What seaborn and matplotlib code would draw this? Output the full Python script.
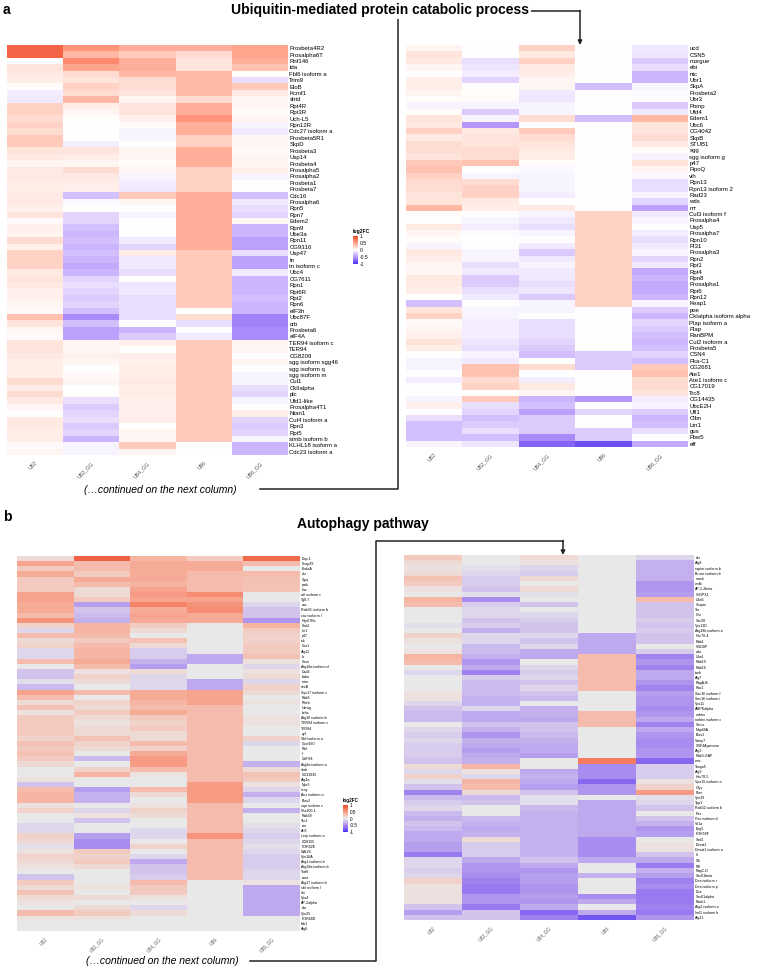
import numpy as np
import pandas as pd
import matplotlib
matplotlib.use('Agg')
import matplotlib.pyplot as plt
import seaborn as sns
from matplotlib.colors import ListedColormap, Normalize, to_rgb
from matplotlib.cm import ScalarMappable

samples = ['UB2', 'UB2_GG', 'UB4_GG', 'UB6', 'UB6_GG']

# ---------------- panel a, left column ----------------
a_left_genes = ['Prosbeta4R2', 'Prosalpha6T', 'Rnf146', 'ida', 'Fbl6 isoform a', 'Trim9', 'EloB', 'Kcmf1',
                'shtd', 'Rpt4R', 'Rpt3R', 'Uch-L5', 'Rpn12R', 'Cdc27 isoform a', 'Prosbeta5R1', 'SkpD',
                'Prosbeta3', 'Usp14', 'Prosbeta4', 'Prosalpha5', 'Prosalpha2', 'Prosbeta1', 'Prosbeta7',
                'Cdc16', 'Prosalpha6', 'Rpn5', 'Rpn7', 'Edem2', 'Rpn9', 'Ube3a', 'Rpn11', 'CG9316', 'Usp47',
                'tn', 'tn isoform c', 'Ubc4', 'CG7611', 'Rpn1', 'Rpt6R', 'Rpt2', 'Rpn6', 'eIF3h', 'Ubc87F',
                'crb', 'Prosbeta6', 'eIF4A', 'TER94 isoform c', 'TER94', 'CG8209', 'sgg isoform sgg46',
                'sgg isoform q', 'sgg isoform m', 'Cul1', 'CkIIalpha', 'plc', 'Ufd1-like', 'Prosalpha4T1',
                'Ntan1', 'Cul4 isoform a', 'Rpn3', 'Rpt5', 'simb isoform b', 'KLHL18 isoform a',
                'Cdc23 isoform a']
a_left_ub2 = [0.85, 0.85, 0.0, 0.15, 0.12, 0.1, 0.02, -0.08, -0.1, 0.25,
              0.25, 0.2, 0.25, 0.2, 0.3, 0.3, 0.15, 0.12, 0.05, 0.12,
              0.12, 0.1, 0.1, 0.12, 0.12, 0.08, 0.15, 0.03, 0.08, 0.05,
              0.2, 0.08, 0.25, 0.25, 0.25, 0.12, 0.15, 0.12, 0.08, 0.08,
              0.05, 0.03, 0.35, 0.15, 0.05, 0.03, 0.15, 0.15, 0.12, 0.1,
              0.1, 0.1, 0.2, 0.1, 0.2, 0.12, 0.05, 0.0, 0.12, 0.12,
              0.1, 0.1, 0.03, 0.05]
a_left_ub2gg = [0.6, 0.4, 0.65, 0.5, 0.2, 0.15, 0.25, 0.2, 0.4, 0.1,
                0.05, 0.02, 0.0, 0.0, 0.0, -0.08, 0.15, 0.1, 0.05, 0.2,
                0.12, 0.1, 0.08, -0.3, -0.03, 0.0, -0.2, -0.2, -0.3, -0.35,
                -0.3, -0.35, -0.3, -0.35, -0.4, -0.35, -0.2, -0.15, -0.2, -0.25,
                -0.2, -0.3, -0.55, -0.3, -0.45, -0.45, 0.05, 0.05, 0.08, 0.05,
                0.0, 0.03, 0.05, 0.0, 0.0, -0.15, -0.25, -0.2, -0.15, -0.25,
                -0.2, -0.35, -0.05, -0.05]
a_left_ub4gg = [0.45, 0.3, 0.45, 0.45, 0.4, 0.2, 0.2, 0.15, 0.05, 0.15,
                0.15, 0.08, 0.02, -0.05, -0.05, 0.0, 0.05, 0.05, 0.02, 0.05,
                -0.05, -0.08, -0.1, 0.3, 0.05, 0.0, -0.05, 0.0, 0.0, 0.0,
                -0.1, -0.2, 0.1, -0.1, -0.1, -0.15, 0.0, -0.12, -0.1, -0.15,
                -0.15, -0.15, -0.15, 0.0, -0.35, -0.25, 0.08, 0.0, 0.1, 0.08,
                0.1, 0.1, 0.12, 0.1, 0.1, 0.08, 0.08, 0.08, 0.1, 0.0,
                0.05, 0.05, 0.3, 0.05]
a_left_ub6 = [0.45, 0.2, 0.15, 0.15, 0.4, 0.4, 0.4, 0.4, 0.2, 0.45,
              0.45, 0.6, 0.45, 0.45, 0.25, 0.25, 0.45, 0.45, 0.45, 0.25,
              0.25, 0.25, 0.25, 0.45, 0.45, 0.45, 0.45, 0.45, 0.45, 0.45,
              0.45, 0.45, 0.3, 0.3, 0.3, 0.3, 0.3, 0.3, 0.3, 0.3,
              0.3, 0.0, 0.2, -0.15, 0.0, -0.1, 0.3, 0.3, 0.3, 0.3,
              0.3, 0.3, 0.3, 0.3, 0.3, 0.3, 0.3, 0.3, 0.3, 0.3,
              0.3, 0.3, 0.0, 0.0]
a_left_ub6gg = [0.5, 0.5, 0.45, 0.35, 0.0, -0.15, 0.3, 0.12, 0.05, 0.05,
                0.02, 0.05, -0.05, -0.1, 0.05, 0.05, 0.03, 0.05, 0.05, 0.08,
                -0.05, 0.0, 0.0, -0.3, -0.1, -0.15, -0.2, 0.05, -0.35, -0.35,
                -0.45, -0.45, -0.15, -0.45, -0.45, -0.1, -0.35, -0.35, -0.35, -0.3,
                -0.35, -0.35, -0.6, -0.6, -0.55, -0.55, 0.05, 0.05, 0.0, 0.05,
                0.0, -0.05, -0.05, -0.15, -0.2, -0.05, 0.0, 0.1, -0.2, -0.25,
                -0.2, -0.05, -0.35, -0.35]

# ---------------- panel a, right column ----------------
a_right_genes = ['ucd', 'CSN5', 'morgue', 'ebi', 'ntc', 'Ubr1', 'SkpA', 'Prosbeta2', 'Ubr3', 'Pomp', 'Ufd4',
                 'Edem1', 'Ubc6', 'CG4042', 'SkpB', 'STUB1', 'sgg', 'sgg isoform g', 'p47', 'FipoQ', 'vih',
                 'Rpn13', 'Rpn13 isoform 2', 'Rad23', 'wds', 'mr', 'Cul3 isoform f', 'Prosalpha4', 'Usp5',
                 'Prosalpha7', 'Rpn10', 'PI31', 'Prosalpha3', 'Rpn2', 'Rpt1', 'Rpt4', 'Rpn8', 'Prosalpha1',
                 'Rpt6', 'Rpn12', 'Keap1', 'poe', 'CkIalpha isoform alpha', 'Plap isoform a', 'Plap',
                 'RanBPM', 'Cul2 isoform a', 'Prosbeta5', 'CSN4', 'Pka-C1', 'CG2681', 'Ate1',
                 'Ate1 isoform c', 'CG17019', 'Trc8', 'CG14435', 'UbcE2H', 'Ufl1', 'Clbn', 'Ltn1', 'gus',
                 'Fbw5', 'eff']
a_right_ub2 = [0.05, 0.15, 0.12, 0.05, 0.0, 0.1, 0.1, 0.05, 0.02, -0.05,
               0.02, 0.15, 0.12, 0.25, 0.12, 0.2, 0.2, 0.15, 0.3, 0.35,
               0.25, 0.2, 0.2, 0.15, 0.15, 0.4, 0.02, 0.0, 0.12, 0.05,
               0.02, -0.05, 0.12, 0.1, 0.05, 0.05, 0.12, 0.12, 0.1, 0.0,
               -0.3, 0.15, 0.25, 0.03, 0.05, 0.08, 0.15, 0.1, 0.0, -0.05,
               -0.05, 0.0, -0.08, 0.0, 0.0, -0.05, 0.08, 0.0, -0.15, -0.3,
               -0.3, -0.3, -0.05]
a_right_ub2gg = [0.0, 0.0, -0.15, -0.12, -0.08, -0.2, 0.0, 0.02, 0.03, -0.05,
                 -0.25, -0.05, -0.5, 0.12, 0.15, 0.15, 0.2, 0.2, 0.35, 0.0,
                 -0.05, 0.2, 0.25, 0.25, 0.12, 0.1, 0.0, -0.05, -0.08, -0.02,
                 0.0, 0.0, -0.05, -0.05, -0.15, -0.1, -0.25, -0.25, -0.15, -0.1,
                 0.0, -0.05, -0.05, -0.08, -0.08, -0.08, -0.12, -0.15, -0.05, -0.1,
                 0.35, 0.35, 0.2, 0.25, 0.0, 0.3, -0.15, -0.2, -0.3, -0.25,
                 -0.15, -0.3, -0.12]
a_right_ub4gg = [0.25, 0.12, 0.25, 0.12, 0.1, 0.05, 0.05, -0.1, -0.12, -0.05,
                 -0.05, 0.2, 0.0, 0.3, 0.2, 0.15, 0.12, 0.1, 0.02, -0.03,
                 -0.05, -0.05, -0.05, -0.08, 0.0, 0.12, -0.05, -0.1, -0.15, -0.05,
                 0.0, -0.1, -0.25, -0.1, -0.05, -0.1, -0.1, -0.15, -0.12, -0.25,
                 -0.05, -0.05, 0.0, -0.15, -0.15, -0.15, -0.2, -0.25, -0.3, 0.0,
                 0.2, 0.0, -0.08, 0.12, 0.05, -0.35, -0.3, -0.45, -0.25, -0.25,
                 -0.25, -0.55, -0.75]
a_right_ub6 = [0, 0, 0, 0, 0, 0, -0.3, 0, 0, 0,
               0, -0.3, 0, 0, 0, 0, 0, 0, 0, 0,
               0, 0, 0, 0, 0, 0, 0.25, 0.25, 0.25, 0.25,
               0.25, 0.25, 0.25, 0.25, 0.25, 0.25, 0.25, 0.25, 0.25, 0.25,
               0.25, 0, 0, 0, 0, 0, 0, 0, -0.25, -0.25,
               -0.25, 0, 0, 0, 0, -0.5, 0, -0.2, 0, 0,
               -0.25, -0.25, -0.85]
a_right_ub6gg = [-0.1, -0.12, -0.25, -0.15, -0.35, -0.35, -0.05, -0.02, 0.0, -0.25,
                 -0.1, 0.4, 0.15, 0.15, 0.2, 0.12, 0.02, -0.05, 0.15, 0.05,
                 -0.03, -0.15, -0.15, -0.05, -0.2, -0.45, -0.1, -0.05, 0.0, -0.08,
                 -0.15, -0.1, -0.05, -0.2, -0.1, -0.4, -0.35, -0.4, -0.4, -0.35,
                 -0.05, -0.25, -0.35, -0.2, -0.25, -0.3, -0.35, -0.3, -0.2, -0.3,
                 0.3, 0.35, 0.2, 0.2, 0.15, -0.08, -0.05, -0.25, -0.35, -0.3,
                 -0.15, 0.0, -0.4]

# ---------------- panel b, left column ----------------
b_left_genes = ['Dop-1', 'Snap29', 'EndoA', 'clu', 'Synj', 'park', 'hiw', 'atl isoform c', 'Tg8-7', 'cac',
                'Rab35 isoform b', 'cac isoform l', 'Hsp67Bc', 'Sod2', 'Ire1', 'p47', 'tsk', 'Ccz1', 'Atg12',
                'rb', 'Sesn', 'Atg18a isoform d', 'Cad3', 'babo', 'mtm', 'sesB', 'Syx17 isoform c', 'Rab5',
                'Rheb', 'Uvrag', 'bchs', 'Atg16 isoform b', 'TER94 isoform c', 'TER94', 'cyf',
                'Sbf isoform a', 'Cpsf160', 'Raf', 'rl', 'CalF84', 'Atg8a isoform a', 'shrb', 'CG31935',
                'Atg4a', 'Npc3', 'scny', 'Aux isoform a', 'Blos2', 'sqa isoform c', 'Vha100-1', 'Rab39',
                'Tsc1', 'car', 'Arl8', 'Lerp isoform a', 'CG8155', 'PI3K92E', 'Wdr24', 'Vps16A',
                'Atg1 isoform b', 'Atg18a isoform b', 'Traf6', 'ema', 'Atg17 isoform b', 'sbl isoform l',
                'shi', 'Vps4', 'AP-2alpha', 'dor', 'Vps25', 'PI3K68D', 'fab1', 'Atg6']
b_left_ub2 = [0.1, 0.45, 0.2, 0.4, 0.2, 0.2, 0.2, 0.45, 0.45, 0.4,
              0.4, 0.3, 0.55, 0.15, -0.1, 0.3, 0.1, 0.15, -0.1, -0.1,
              0.3, 0.0, -0.2, -0.2, -0.05, -0.25, 0.45, 0.3, 0.1, 0.25,
              0.05, 0.2, 0.2, 0.2, 0.2, 0.15, 0.25, 0.2, 0.25, 0.2,
              0.1, 0.0, 0.0, 0.05, -0.2, 0.3, 0.35, 0.35, 0.05, 0.15,
              0.0, 0.0, -0.1, -0.1, 0.15, 0.1, -0.05, 0.05, 0.15, 0.1,
              0.05, 0.0, -0.2, 0.2, 0.1, 0.25, 0.1, 0.05, 0.0, 0.3,
              0.05, 0.0, 0.0]
b_left_ub2gg = [0.85, 0.3, 0.3, 0.2, 0.4, 0.3, 0.1, 0.1, 0.2, -0.4,
                -0.2, -0.25, -0.3, 0.35, 0.35, 0.3, 0.2, 0.3, 0.35, 0.35,
                0.4, 0.3, 0.05, 0.15, 0.1, 0.0, 0.3, 0.0, 0.15, 0.1,
                0.2, 0.1, 0.05, 0.1, 0.1, 0.25, 0.15, 0.1, 0.0, -0.25,
                0.0, 0.15, 0.35, 0.0, 0.0, -0.4, -0.3, -0.3, 0.0, -0.1,
                0.05, -0.2, 0.0, 0.0, -0.4, -0.5, -0.5, 0.2, 0.15, 0.2,
                0.1, 0.0, 0.0, 0.0, 0.05, 0.0, 0.1, 0.0, 0.1, 0.2,
                0.05, 0.0, 0.0]
b_left_ub4gg = [0.35, 0.4, 0.4, 0.4, 0.4, 0.35, 0.45, 0.5, 0.45, 0.65,
                0.4, 0.45, 0.4, 0.2, 0.1, 0.0, 0.25, 0.1, -0.15, -0.15,
                -0.3, -0.4, 0.1, -0.1, -0.1, -0.1, 0.4, 0.4, 0.35, 0.3,
                0.4, 0.2, 0.15, 0.2, 0.1, 0.1, 0.3, 0.15, 0.4, 0.5,
                0.5, 0.3, 0.05, 0.0, 0.0, 0.3, 0.1, 0.0, 0.05, 0.15,
                0.1, 0.0, 0.0, -0.1, -0.1, 0.0, 0.15, 0.0, -0.1, -0.35,
                -0.2, -0.2, -0.15, 0.3, 0.2, 0.2, 0.05, 0.0, -0.1, 0.1,
                0.0, 0.0, 0.0]
b_left_ub6 = [0.2, 0.4, 0.4, 0.3, 0.3, 0.3, 0.3, 0.6, 0.45, 0.55,
              0.6, 0.4, 0.4, 0, 0, 0, 0, 0, 0, -0.35,
              -0.35, 0, 0, 0, -0.35, -0.35, 0.45, 0.45, 0.45, 0.3,
              0.3, 0.3, 0.3, 0.3, 0.3, 0.3, 0.3, 0.3, 0.3, 0.3,
              0.3, 0.3, 0.3, 0.3, 0.5, 0.5, 0.5, 0.5, 0.3, 0.3,
              0.3, 0.3, 0.3, 0.3, 0.55, 0.3, 0.3, 0.3, 0.3, 0.3,
              0.3, 0.3, 0.3, 0, 0, 0, 0, 0, 0, 0,
              0, 0, 0]
b_left_ub6gg = [0.8, 0.3, 0.0, 0.3, 0.25, 0.25, 0.25, 0.0, 0.0, -0.1,
                -0.2, -0.2, -0.45, 0.35, 0.2, 0.15, 0.15, 0.2, 0.2, 0.25,
                0.05, -0.1, 0.05, 0.1, -0.1, 0.15, 0.1, 0.0, 0.05, 0.0,
                0.0, 0.05, 0.05, 0.0, 0.0, 0.15, -0.1, 0.0, 0.0, 0.0,
                -0.3, 0.1, 0.25, 0.2, 0.05, -0.1, -0.3, -0.1, 0.0, -0.3,
                0.0, 0.0, -0.05, -0.1, -0.15, -0.1, -0.05, -0.1, -0.15, -0.15,
                -0.15, -0.1, -0.1, 0.05, -0.35, -0.35, -0.35, -0.35, -0.35, -0.35,
                0.0, 0.0, 0.0]

# ---------------- panel b, right column ----------------
b_right_genes = ['rdx', 'Atg8', 'raptor isoform b', 'Bruce isoform b', 'mask', 'wdb', 'AP-1-2beta', 'SH3PX1',
                 'Uba5', 'Snapin', 'Tor', 'Chc', 'Sec20', 'Vps13D', 'Atg18b isoform a', 'Hsc70-4', 'Rab1',
                 'SNCBP', 'zda', 'Uba1', 'Rab19', 'Rab18', 'tank', 'Atg7', 'RagA-B', 'Rac1',
                 'Sec16 isoform f', 'Sec16 isoform i', 'Vps11', 'AMPKalpha', 'nahtrx', 'nahtrx isoform c',
                 'Smox', 'Nup44A', 'Blos1', 'Vamp7', 'SNF4Agamma', 'Atg3', 'Rab3-GAP', 'wts', 'Tango5',
                 'Atg9', 'Hsc70-5', 'Vps15 isoform a', 'Glys', 'Pten', 'Vps39', 'Tpp1', 'Rab32 isoform b',
                 'Pex', 'Pex isoform d', 'Vti1a', 'Epg5', 'PI3K59F', 'Sod1', 'Desat1', 'Desat1 isoform a',
                 'lt', 'Stk', 'gig', 'RagC-D', 'Sec61beta', 'Doa isoform r', 'Doa isoform p', 'Doa',
                 'Sec61alpha', 'Rack1', 'Atg2 isoform a', 'Iml1 isoform b', 'Atg13']
b_right_ub2 = [0.2, 0.1, 0.05, 0.1, 0.25, 0.2, 0.05, 0.0, 0.35, 0.3,
               0.0, 0.0, 0.0, -0.05, 0.0, 0.15, 0.05, 0.0, 0.05, 0.35,
               0.3, 0.0, -0.1, 0.0, 0.0, 0.0, 0.05, 0.05, -0.1, -0.2,
               -0.25, -0.25, 0.0, -0.1, -0.15, -0.1, -0.15, -0.15, -0.15, -0.2,
               0.1, -0.1, 0.15, -0.05, -0.2, -0.55, -0.25, -0.15, -0.1, -0.25,
               -0.3, -0.2, -0.25, -0.35, -0.35, -0.4, -0.4, -0.6, -0.1, -0.1,
               -0.15, -0.1, 0.15, 0.05, 0.05, 0.05, 0.05, -0.2, -0.4, -0.2]
b_right_ub2gg = [0.0, 0.0, -0.05, -0.1, -0.15, -0.15, -0.2, -0.05, -0.5, -0.15,
                 -0.1, -0.1, -0.2, -0.15, -0.3, -0.1, -0.1, -0.25, -0.25, -0.3,
                 -0.45, -0.35, -0.55, -0.15, -0.25, -0.25, -0.25, -0.3, -0.3, -0.1,
                 -0.35, -0.35, -0.2, -0.3, -0.45, -0.3, -0.35, -0.4, -0.35, -0.3,
                 0.35, 0.05, -0.1, 0.35, 0.3, 0.1, -0.25, -0.2, 0.0, 0.0,
                 -0.25, -0.3, -0.35, -0.3, 0.1, -0.15, -0.15, -0.15, -0.35, -0.45,
                 -0.45, -0.5, -0.55, -0.6, -0.6, -0.45, -0.45, -0.6, -0.2, -0.2]
b_right_ub4gg = [0.1, 0.05, -0.1, -0.15, 0.1, 0.0, 0.1, -0.05, 0.0, -0.2,
                 0.0, -0.1, -0.15, -0.2, -0.2, -0.1, -0.2, -0.1, -0.35, -0.35,
                 0.0, -0.1, -0.15, -0.1, -0.2, -0.1, -0.2, -0.25, 0.0, -0.3,
                 -0.3, -0.35, -0.2, -0.2, -0.25, -0.3, -0.35, -0.35, -0.4, 0.0,
                 0.0, -0.35, -0.3, -0.35, -0.4, -0.2, -0.05, -0.05, -0.25, -0.3,
                 -0.3, -0.3, -0.3, -0.3, -0.3, -0.3, -0.3, -0.3, -0.2, -0.35,
                 -0.45, -0.4, -0.4, -0.45, -0.45, -0.4, -0.45, -0.35, -0.7, -0.55]
b_right_ub6 = [0, 0, 0, 0, 0, 0, 0, 0, 0, 0,
               0, 0, 0, 0, 0, -0.35, -0.35, -0.35, -0.35, 0.3,
               0.3, 0.3, 0.3, 0.3, 0.3, 0.3, 0, 0, 0, 0,
               0.3, 0.3, 0.3, 0, 0, 0, 0, 0, 0, 0.7,
               -0.5, -0.5, -0.5, -0.7, -0.45, -0.45, 0, -0.35, -0.35, -0.35,
               -0.35, -0.35, -0.35, -0.35, -0.5, -0.5, -0.5, -0.5, -0.35, 0,
               0, -0.3, 0, 0, 0, -0.5, -0.35, 0, -0.35, -0.8]
b_right_ub6gg = [-0.1, -0.3, -0.3, -0.3, -0.3, -0.45, -0.45, -0.4, 0.3, -0.2,
                 -0.2, -0.2, -0.15, -0.2, -0.15, -0.2, -0.2, 0.0, -0.15, -0.55,
                 -0.45, -0.55, -0.35, -0.35, -0.45, -0.55, -0.4, -0.45, -0.45, -0.5,
                 -0.45, -0.35, -0.55, -0.35, -0.45, -0.5, -0.5, -0.45, -0.45, -0.7,
                 -0.15, -0.15, -0.15, 0.05, 0.15, 0.5, -0.05, -0.1, -0.2, 0.0,
                 -0.2, -0.3, -0.45, -0.4, 0.0, 0.05, 0.05, -0.2, -0.35, -0.6,
                 -0.3, -0.4, -0.55, -0.5, -0.6, -0.6, -0.6, -0.55, -0.6, -0.45]


# colour ramp interpolated in LAB space (blue - mid - red)
M = np.array([[0.4124, 0.3576, 0.1805], [0.2126, 0.7152, 0.0722], [0.0193, 0.1192, 0.9505]])
WHITE = np.array([0.95047, 1.0, 1.08883])


def to_lab(c):
    c = np.array(to_rgb(c))
    lin = np.where(c <= 0.04045, c / 12.92, ((c + 0.055) / 1.055) ** 2.4)
    xyz = M @ lin / WHITE
    f = np.where(xyz > 0.008856, np.cbrt(xyz), 7.787 * xyz + 16 / 116)
    return np.array([116 * f[1] - 16, 500 * (f[0] - f[1]), 200 * (f[1] - f[2])])


def from_lab(lab):
    fy = (lab[0] + 16) / 116
    f = np.array([fy + lab[1] / 500, fy, fy - lab[2] / 200])
    xyz = np.where(f ** 3 > 0.008856, f ** 3, (f - 16 / 116) / 7.787) * WHITE
    lin = np.clip(np.linalg.inv(M) @ xyz, 0, 1)
    c = np.where(lin <= 0.0031308, 12.92 * lin, 1.055 * lin ** (1 / 2.4) - 0.055)
    return np.clip(c, 0, 1)


def lab_cmap(low, mid, high, n=256):
    lo, mi, hi = to_lab(low), to_lab(mid), to_lab(high)
    cols = []
    for t in np.linspace(-1, 1, n):
        if t < 0:
            cols.append(from_lab(lo + (mi - lo) * (t + 1)))
        else:
            cols.append(from_lab(mi + (hi - mi) * t))
    return ListedColormap(cols)


cmap_a = lab_cmap('#3A30F0', '#FFFFFF', '#EA4327')
cmap_b = lab_cmap('#3A30F0', '#E9E9E9', '#EA4327')

plt.rcParams['font.family'] = ['Liberation Sans', 'DejaVu Sans']
W, H = 759, 972
fig = plt.figure(figsize=(W / 100, H / 100), dpi=100)


def px_axes(x0, y0, x1, y1):
    return fig.add_axes([x0 / W, 1 - y1 / H, (x1 - x0) / W, (y1 - y0) / H])


def draw_heat(box, genes, cols, cmap, fs, xfs):
    ax = px_axes(*box)
    df = pd.DataFrame(dict(zip(samples, cols)), index=genes)
    sns.heatmap(df, ax=ax, cmap=cmap, vmin=-1, vmax=1, cbar=False,
                xticklabels=True, yticklabels=True)
    ax.yaxis.tick_right()
    ax.tick_params(length=0, pad=1)
    ax.set_yticklabels(genes, rotation=0, fontsize=fs)
    ax.set_xticklabels(samples, rotation=45, ha='right', rotation_mode='anchor',
                       fontsize=xfs, color='#555555')
    ax.tick_params(axis='x', pad=4)
    ax.set_xlabel('')
    ax.set_ylabel('')
    return ax


def draw_cbar(box, cmap, fs):
    cax = px_axes(*box)
    cb = fig.colorbar(ScalarMappable(Normalize(-1, 1), cmap), cax=cax)
    cb.outline.set_visible(False)
    cb.set_ticks([1, 0.5, 0, -0.5, -1])
    cb.set_ticklabels(['1', '0.5', '0', '-0.5', '-1'])
    cax.tick_params(length=0, pad=1.5, labelsize=fs)
    cax.text(0, 1.06, 'log2FC', transform=cax.transAxes, fontsize=fs, weight='bold',
             ha='left', va='bottom')


draw_heat((7, 45, 288, 455), a_left_genes,
          [a_left_ub2, a_left_ub2gg, a_left_ub4gg, a_left_ub6, a_left_ub6gg], cmap_a, 4.3, 3.8)
draw_heat((406, 45, 688, 447), a_right_genes,
          [a_right_ub2, a_right_ub2gg, a_right_ub4gg, a_right_ub6, a_right_ub6gg], cmap_a, 4.3, 3.8)
draw_heat((17, 556, 300, 931), b_left_genes,
          [b_left_ub2, b_left_ub2gg, b_left_ub4gg, b_left_ub6, b_left_ub6gg], cmap_b, 2.6, 3.3)
draw_heat((404, 555, 694, 920), b_right_genes,
          [b_right_ub2, b_right_ub2gg, b_right_ub4gg, b_right_ub6, b_right_ub6gg], cmap_b, 2.6, 3.3)

draw_cbar((353, 236, 358, 264), cmap_a, 3.6)
draw_cbar((343, 805, 348, 832), cmap_b, 3.3)

# overlay for titles, connector lines and notes
ov = fig.add_axes([0, 0, 1, 1], zorder=10)
ov.set_xlim(0, W)
ov.set_ylim(H, 0)
ov.axis('off')
ov.patch.set_visible(False)

lc = '#222222'
ov.text(3, 10, 'a', fontsize=10, weight='bold', va='center', ha='left')
ov.text(380, 10, 'Ubiquitin-mediated protein catabolic process', fontsize=10, weight='bold',
        ha='center', va='center', bbox=dict(fc='white', ec='none', pad=1.5), zorder=5)
ov.plot([260, 398, 398, 580], [489, 489, 11, 11], color=lc, lw=1.1, zorder=2)
ov.annotate('', xy=(580, 45), xytext=(580, 10.5),
            arrowprops=dict(arrowstyle='-|>', color=lc, lw=1.1, mutation_scale=6, shrinkA=0, shrinkB=0))
ov.text(160, 490, '(\u2026continued on the next column)', fontsize=7.5, style='italic',
        ha='center', va='center')

ov.text(3, 517, 'b', fontsize=10, weight='bold', va='center', ha='left')
ov.text(363, 524, 'Autophagy pathway', fontsize=10, weight='bold', ha='center', va='center')
ov.plot([250, 376, 376, 563], [961, 961, 541, 541], color=lc, lw=1.1)
ov.annotate('', xy=(563, 555), xytext=(563, 540.5),
            arrowprops=dict(arrowstyle='-|>', color=lc, lw=1.1, mutation_scale=6, shrinkA=0, shrinkB=0))
ov.text(162, 961, '(\u2026continued on the next column)', fontsize=7.5, style='italic',
        ha='center', va='center')

fig.savefig('out.png', dpi=100)
